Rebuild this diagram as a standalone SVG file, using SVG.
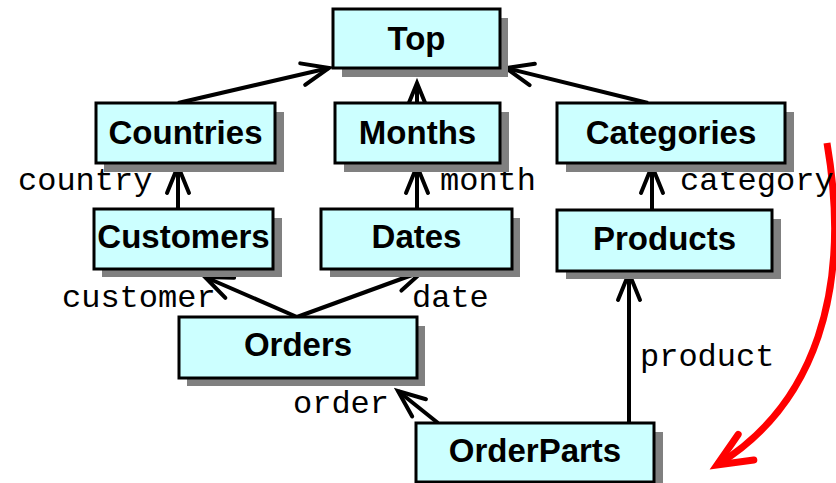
<svg xmlns="http://www.w3.org/2000/svg" width="836" height="483" viewBox="0 0 836 483">
<style>
.sh{fill:#808080}
.bx{fill:#ccffff;stroke:#000;stroke-width:3}
.nt{font-family:"Liberation Sans",Arial,sans-serif;font-weight:bold;font-size:33px;text-anchor:middle;fill:#000}
.lb{font-family:"Liberation Mono","Courier New",monospace;font-size:32px;fill:#000}
.cn{stroke:#000;stroke-width:4;fill:none;marker-end:url(#ah)}
</style>
<defs>
<marker id="ah" markerUnits="userSpaceOnUse" markerWidth="40" markerHeight="40" refX="0" refY="0" viewBox="-32 -20 40 40" orient="auto" overflow="visible">
<path d="M-27,-11 L0,0 L-27,11" fill="none" stroke="#000" stroke-width="4" stroke-linecap="round" stroke-linejoin="miter"/>
</marker>
<marker id="rh" markerUnits="userSpaceOnUse" markerWidth="50" markerHeight="50" refX="0" refY="0" viewBox="-40 -25 50 50" orient="auto" overflow="visible">
<path d="M-34,-15 L0,0 L-34,15" fill="none" stroke="#ff0000" stroke-width="7" stroke-linecap="round"/>
</marker>
</defs>
<g id="connectors">
<line class="cn" x1="178" y1="103" x2="329" y2="68"/>
<line class="cn" x1="648" y1="103" x2="506" y2="68"/>
<line class="cn" x1="417" y1="103" x2="417" y2="83"/>
<line class="cn" x1="178" y1="209" x2="178" y2="166"/>
<line class="cn" x1="417" y1="209" x2="417" y2="166"/>
<line class="cn" x1="652" y1="210" x2="652" y2="166"/>
<line class="cn" x1="297" y1="317" x2="205" y2="277"/>
<line class="cn" x1="297" y1="317" x2="423" y2="271"/>
<line class="cn" x1="438" y1="423" x2="398" y2="391"/>
<line class="cn" x1="629" y1="423" x2="629" y2="273"/>
<path d="M827,143 C852,290 815,405 717,465" fill="none" stroke="#ff0000" stroke-width="7" marker-end="url(#rh)"/>
</g>
<g id="labels">
<text class="lb" x="18" y="190">country</text>
<text class="lb" x="440" y="190">month</text>
<text class="lb" x="680" y="190">category</text>
<text class="lb" x="62" y="307">customer</text>
<text class="lb" x="412" y="307">date</text>
<text class="lb" x="293" y="413">order</text>
<text class="lb" x="640" y="366">product</text>
</g>
<g id="Top">
<rect class="sh" x="342" y="18" width="166" height="59"/>
<rect class="bx" x="333" y="9" width="167" height="59"/>
<text class="nt" x="416.5" y="50">Top</text>
</g>
<g id="Countries">
<rect class="sh" x="104" y="112" width="180" height="60"/>
<rect class="bx" x="96" y="103" width="179" height="60"/>
<text class="nt" x="185.5" y="144">Countries</text>
</g>
<g id="Months">
<rect class="sh" x="344" y="112" width="165" height="60"/>
<rect class="bx" x="335" y="103" width="165" height="60"/>
<text class="nt" x="417.5" y="144">Months</text>
</g>
<g id="Categories">
<rect class="sh" x="566" y="112" width="228" height="60"/>
<rect class="bx" x="557" y="103" width="228" height="60"/>
<text class="nt" x="671" y="144">Categories</text>
</g>
<g id="Customers">
<rect class="sh" x="102" y="218" width="180" height="59"/>
<rect class="bx" x="94" y="209" width="179" height="60"/>
<text class="nt" x="183.5" y="248">Customers</text>
</g>
<g id="Dates">
<rect class="sh" x="330" y="218" width="190" height="59"/>
<rect class="bx" x="321" y="209" width="191" height="60"/>
<text class="nt" x="416.5" y="248">Dates</text>
</g>
<g id="Products">
<rect class="sh" x="566" y="219" width="215" height="60"/>
<rect class="bx" x="557" y="210" width="215" height="61"/>
<text class="nt" x="664.5" y="250">Products</text>
</g>
<g id="Orders">
<rect class="sh" x="187" y="326" width="238" height="60"/>
<rect class="bx" x="179" y="317" width="238" height="61"/>
<text class="nt" x="298" y="356">Orders</text>
</g>
<g id="OrderParts">
<rect class="sh" x="425" y="432" width="238" height="60"/>
<rect class="bx" x="416" y="423" width="238" height="59"/>
<text class="nt" x="535" y="462">OrderParts</text>
</g>
</svg>
